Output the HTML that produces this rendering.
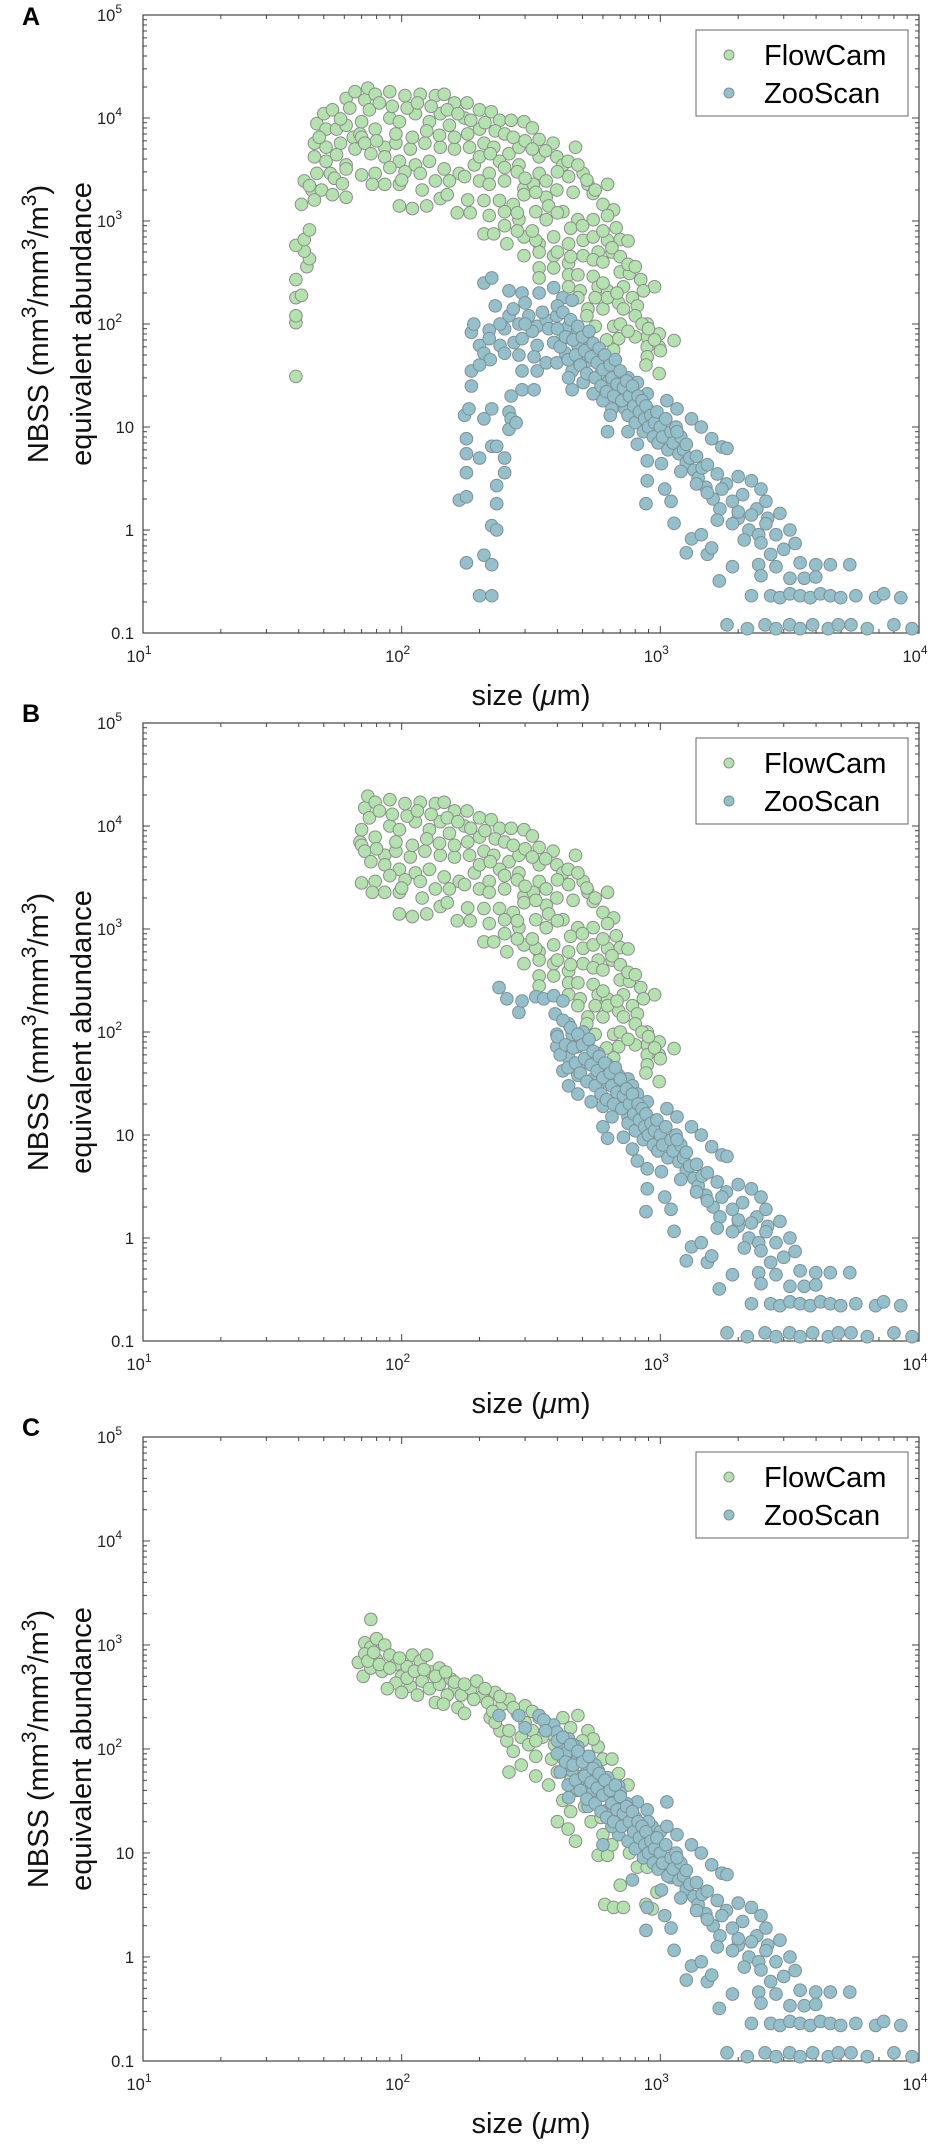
<!DOCTYPE html>
<html><head><meta charset="utf-8"><style>
html,body{margin:0;padding:0;background:#fff;}
svg{display:block;font-family:"Liberation Sans",Arial,sans-serif;}
</style></head><body>
<svg id="fig" width="945" height="2145" viewBox="0 0 945 2145" xmlns="http://www.w3.org/2000/svg"></svg>
<script>
// ---- data (size in µm, NBSS) ----
const flowLeftA = [[39,31],[39,103],[39,120],[39,180],[41,190],[39,270],[43,360],[44,430],[42,510],[39,580],[42,660],[44,820],[41,1450],[42,2450],[45,2000],[49,2000],[54,1800],[61,1700],[46,1600],[47,2900],[46,4200],[46,5700],[47,8800],[50,11000],[54,12000],[61,15500],[66,18000],[51,7800],[56,7800],[61,8500],[51,5200],[58,5700],[65,6500],[51,3800],[56,4400],[61,3500],[66,5000],[53,2900],[61,3200],[44,2200],[48,6500],[58,9800],[63,12500],[55,2600],[59,2300]];
const flowMain = [[69,7000],[72,15000],[74,19500],[79,17000],[90,18000],[103,16500],[118,17000],[135,16500],[146,17000],[160,14000],[179,14000],[200,12000],[222,11500],[239,9500],[265,9500],[297,9200],[320,8000],[340,6200],[385,5700],[470,5200],[70,9200],[70,6500],[79,7800],[90,10000],[98,9200],[113,11000],[128,9200],[141,11000],[153,8500],[175,10000],[200,7800],[72,5700],[86,5200],[95,5700],[108,5000],[123,5700],[141,5200],[160,5000],[183,5200],[208,5700],[227,5200],[260,4500],[284,5200],[76,4500],[86,4200],[98,3800],[113,3500],[128,3800],[146,3200],[167,2900],[191,3500],[218,2900],[239,3800],[284,3500],[340,4200],[398,4200],[420,3500],[70,2800],[79,2900],[90,3300],[103,3000],[118,2900],[135,2450],[153,2450],[175,2700],[200,2450],[218,2270],[250,2450],[297,2070],[340,2900],[362,2450],[442,2700],[503,2900],[525,2270],[625,2270],[77,2270],[86,2270],[98,2270],[98,1400],[110,1320],[125,1400],[141,1650],[164,1200],[184,1200],[208,1580],[239,1580],[270,1450],[297,1800],[323,2270],[362,1700],[398,2000],[460,1900],[550,1850],[600,1450],[660,1280],[675,860],[700,660],[750,640],[218,1130],[250,1230],[284,1030],[330,1230],[362,1030],[420,1230],[480,1030],[550,1030],[625,1130],[208,750],[227,750],[255,600],[297,700],[340,600],[387,700],[442,600],[503,650],[575,500],[625,650],[297,460],[340,500],[387,460],[442,390],[503,460],[550,420],[600,400],[650,500],[340,350],[387,350],[442,300],[480,300],[550,290],[340,280],[442,230],[490,210],[575,230],[625,210],[720,230],[700,320],[760,310],[840,270],[950,230],[860,210],[780,180],[815,150],[690,160],[600,140],[525,140],[625,180],[890,100],[890,75],[990,80],[800,75],[890,60],[990,60],[1130,69],[890,48],[660,95],[690,72],[660,56],[420,72],[990,33],[590,33]];
const flowExtra = [[75,12000],[82,14000],[92,13000],[105,12500],[115,14000],[130,13000],[150,12000],[165,11000],[185,9500],[210,9000],[230,7500],[250,7000],[270,6500],[300,6000],[320,5000],[360,4800],[400,3000],[440,3800],[480,3500],[520,2500],[560,2000],[80,6000],[95,7000],[110,6500],[125,7500],[140,6800],[160,6500],[180,7000],[200,4200],[220,4500],[250,3300],[280,3000],[300,2600],[330,1900],[370,1400],[400,1200],[450,850],[500,900],[550,700],[600,800],[650,550],[700,450],[750,380],[800,360],[600,250],[680,200],[720,140],[800,120],[850,100],[900,90],[950,70],[1000,55],[700,100],[750,85],[880,40],[560,180],[100,2500],[120,2000],[150,1800],[180,1600],[250,900],[280,800],[330,650],[400,500],[450,450],[480,180],[520,120],[560,95],[620,70],[280,1200],[320,800]];
const flowC = [[76,1760],[72,1050],[76,950],[80,1150],[86,1000],[68,680],[72,820],[71,500],[76,600],[80,720],[84,560],[90,800],[95,650],[100,500],[105,620],[110,800],[118,700],[125,800],[130,550],[140,600],[120,450],[108,400],[95,430],[88,380],[100,350],[115,330],[128,380],[140,420],[155,470],[160,380],[170,330],[150,330],[135,280],[145,270],[165,250],[175,220],[185,380],[195,450],[205,320],[215,280],[230,350],[245,270],[260,300],[280,220],[300,260],[320,230],[340,200],[360,180],[380,140],[220,200],[240,150],[255,120],[270,95],[290,130],[310,110],[330,85],[260,60],[290,70],[330,55],[370,45],[400,60],[430,70],[450,50],[480,40],[420,32],[450,25],[510,28],[540,20],[560,33],[590,22],[400,20],[440,17],[470,13],[575,9.5],[625,9.5],[700,4.9],[760,10],[815,7.3],[890,7.3],[990,7.5],[610,3.2],[660,3.0],[720,3.0],[880,3.2],[930,2.9],[970,4.2],[525,150],[575,105],[480,210],[600,80],[650,80],[550,125],[690,58],[750,45]];
const flowCExtra = [[74,700],[78,850],[82,650],[90,600],[98,750],[105,480],[112,560],[122,580],[135,500],[148,550],[160,440],[175,420],[190,300],[210,380],[225,230],[240,320],[270,250],[300,180],[320,150],[350,130],[390,110],[410,85],[440,95],[470,75],[500,55],[530,45],[560,60],[600,40],[650,28],[700,22],[420,200],[450,160],[500,120],[230,180],[260,150],[330,120],[380,80],[480,100],[600,15],[650,12]];
const zooEarlyA = [[167,1.95],[178,2.1],[178,3.6],[178,5.5],[178,7.7],[208,12],[175,13],[182,15],[186,25],[186,35],[200,5],[223,6.5],[233,6.5],[250,5],[250,3.6],[233,2.7],[233,1.8],[223,1.1],[233,1.0],[178,0.48],[208,0.57],[223,0.46],[200,0.23],[223,0.23],[223,15],[260,14],[265,12],[260,9.5],[277,11],[265,20],[292,23],[325,23],[292,35],[334,35],[362,42],[186,83],[200,62],[208,52],[218,87],[208,250],[223,280],[260,210],[292,200],[340,200],[387,225],[420,180],[456,170],[260,120],[284,100],[310,120],[334,95],[362,110],[398,120],[442,95],[480,87],[218,72],[240,62],[272,66],[292,72],[334,62],[387,66],[430,52],[480,62],[525,72],[575,52],[250,52],[284,50],[325,48],[398,42],[456,35],[503,27],[550,21],[600,18],[650,15],[625,27],[690,33],[750,30],[815,27],[890,21],[690,23],[730,15],[815,12],[890,15],[625,9],[750,9],[815,6.8],[890,4.7],[640,13],[456,23],[525,44],[442,30],[230,150],[250,90],[270,140],[300,160],[320,85],[350,130],[370,90],[400,150],[300,100],[240,100],[220,45],[200,40],[190,100]];
const zooEarlyB = [[238,270],[255,210],[284,155],[292,200],[330,220],[354,210],[387,225],[420,200],[392,150],[442,120],[398,95],[456,95],[503,100],[525,80],[480,72],[398,72],[442,56],[503,52],[575,62],[625,48],[420,42],[480,38],[550,35],[625,33],[690,38],[750,35],[442,30],[480,25],[540,21],[600,19],[690,27],[780,30],[815,25],[890,21],[650,15],[750,15],[815,13],[890,15],[600,12],[625,9.3],[720,9.5],[780,7.3],[815,5.6],[890,4.7],[970,7.3],[1010,8.8]];
const zooEarlyC = [[238,210],[284,210],[340,210],[387,170],[442,125],[420,100],[480,105],[525,80],[456,62],[503,53],[575,62],[625,53],[690,44],[442,34],[525,28],[625,26],[720,28],[815,31],[890,26],[1060,31],[600,12],[690,15],[780,18],[815,13],[930,18],[970,11],[1010,7.7],[780,5.5],[1100,5.8],[890,9.5],[354,190],[398,145],[480,80],[550,53],[650,18]];
const zooCExtra = [[300,160],[360,150],[400,120],[430,90],[460,110],[500,85],[520,60],[560,70],[600,50],[640,40],[700,38],[740,30],[800,22],[860,17],[900,20],[950,14],[1000,16],[450,70],[550,40],[650,30]];
const zooMid = [[400,90],[410,60],[420,130],[430,75],[440,45],[450,110],[460,70],[470,50],[480,95],[490,40],[500,75],[510,55],[520,33],[530,85],[540,48],[550,65],[560,30],[570,42],[580,58],[590,25],[600,36],[610,50],[620,22],[640,40],[650,30],[660,20],[670,45],[680,26],[700,35],[710,18],[720,24],[740,28],[750,13],[760,20],[780,25],[790,16],[800,11],[820,20],[830,14],[850,18],[860,9],[870,12],[880,16],[900,10],[920,13],[940,8],[950,11],[970,14],[980,7],[1000,10],[1020,8],[1050,12],[1070,6],[1100,9],[1120,7],[1150,10],[1180,5.5],[1200,8],[1230,6],[1260,4.5],[1300,5],[1350,3.8],[1400,3.2],[1450,4],[1500,2.6],[1600,2],[1700,1.6],[1800,2.8],[2000,1.3],[2200,1.0],[2400,0.9],[2600,1.3],[3000,0.65]];
const zooTail = [[1060,18],[1160,15],[1320,12],[1440,10],[1580,7.7],[1730,6.4],[1160,9],[1260,6.8],[1380,5.2],[1520,4.3],[1660,3.5],[1810,6.2],[2000,3.3],[2250,3.0],[2080,2.2],[2360,1.6],[2250,1.4],[2560,1.15],[2800,0.9],[3170,1.0],[3320,0.74],[2000,1.5],[1900,1.15],[2110,0.8],[2450,0.75],[2670,0.58],[2400,0.46],[2800,0.44],[3470,0.48],[3990,0.46],[4540,0.46],[5400,0.46],[3170,0.34],[3600,0.34],[3990,0.35],[2450,0.36],[1690,0.32],[1900,0.44],[1520,0.58],[1260,0.6],[1320,0.82],[1580,0.67],[1660,1.25],[1440,0.9],[1130,1.16],[880,1.8],[890,3],[1100,1.9],[1040,2.5],[1010,4.4],[1200,3.7],[1380,2.8],[1520,2.3],[2560,1.9],[2900,1.45],[2450,2.5],[1730,2.5],[1900,1.9],[2250,0.23],[2670,0.23],[2900,0.22],[3170,0.24],[3470,0.23],[3800,0.22],[4160,0.24],[4540,0.23],[4980,0.22],[5700,0.23],[6800,0.22],[7300,0.24],[8500,0.22],[1810,0.12],[2170,0.11],[2540,0.12],[2800,0.11],[3160,0.12],[3470,0.11],[3880,0.12],[4460,0.11],[4880,0.12],[5460,0.12],[6310,0.11],[8000,0.12],[9400,0.11]];
const xTickLabels = ["1","2","3","4"];
const yTickLabels = ["0.1","1","10","2","3","4","5"];

const NS = "http://www.w3.org/2000/svg";
const svg = document.getElementById('fig');
const L = 143, R = 919, XDEC = (R - L) / 3;
function mk(tag, attrs, parent) {
  const e = document.createElementNS(NS, tag);
  for (const k in attrs) e.setAttribute(k, attrs[k]);
  (parent || svg).appendChild(e);
  return e;
}
function panel(id, top, dec, flow, zoo, letter, letterY) {
  const g = mk('g', {});
  
  
  const bottom = top + dec * 6;
  const xs = s => L + (Math.log10(s) - 1) * XDEC;
  const ys = v => top + (5 - Math.log10(v)) * dec;
  const tk = mk('g', {stroke: '#444', 'stroke-width': 1}, g);
  
  
  for (let d = 1; d <= 4; d++) for (let m = 1; m <= 9; m++) {
    if (d === 4 && m > 1) break;
    const x = xs(m * Math.pow(10, d)); const len = m === 1 ? 7 : 4;
    mk('line', {x1: x, x2: x, y1: bottom, y2: bottom - len}, tk);
    mk('line', {x1: x, x2: x, y1: top, y2: top + len}, tk);
  }
  for (let d = -1; d <= 5; d++) for (let m = 1; m <= 9; m++) {
    if (d === 5 && m > 1) break;
    const y = ys(m * Math.pow(10, d)); const len = m === 1 ? 7 : 4;
    mk('line', {x1: L, x2: L + len, y1: y, y2: y}, tk);
    mk('line', {x1: R, x2: R - len, y1: y, y2: y}, tk);
  }
  const box = mk('rect', {x: L, y: top, width: R - L, height: bottom - top, fill: 'none', stroke: '#444', 'stroke-width': 1.2}, g);
  
  
  for (let i = 0; i < 4; i++) {
    const t = mk('text', {x: xs(Math.pow(10, i + 1)) - 4, y: bottom + 29, 'text-anchor': 'middle', 'font-size': 16.5, fill: '#222'}, g);
    
    
    t.appendChild(document.createTextNode('10'));
    const s = mk('tspan', {dy: -8, 'font-size': 12}, t); s.textContent = xTickLabels[i];
  }
  for (let i = 0; i < 7; i++) {
    const y = ys(Math.pow(10, i - 1));
    const t = mk('text', {x: L - 9, y: y + 6, 'text-anchor': 'end', 'font-size': 16.5, fill: '#222'}, g);
    
    
    if (i < 3) t.textContent = yTickLabels[i];
    else { t.setAttribute('x', L - 21); t.appendChild(document.createTextNode('10'));
      const s = mk('tspan', {dy: -8, 'font-size': 12}, t); s.textContent = yTickLabels[i]; }
  }
  const xt = mk('text', {x: (L + R) / 2, y: bottom + 72, 'text-anchor': 'middle', 'font-size': 29, fill: '#111'}, g);
  
  
  xt.innerHTML = 'size (<tspan font-style="italic">μ</tspan>m)';
  const cy = (top + bottom) / 2;
  const yt = mk('text', {transform: `translate(48,${cy}) rotate(-90)`, 'text-anchor': 'middle', 'font-size': 29, fill: '#111'}, g);
  
  
  yt.innerHTML = 'NBSS (mm<tspan dy="-12" font-size="21">3</tspan><tspan dy="12">/mm</tspan><tspan dy="-12" font-size="21">3</tspan><tspan dy="12">/m</tspan><tspan dy="-12" font-size="21">3</tspan><tspan dy="12">)</tspan>';
  const yt2 = mk('text', {transform: `translate(91,${cy}) rotate(-90)`, 'text-anchor': 'middle', 'font-size': 29, fill: '#111'}, g);
  
  
  yt2.textContent = 'equivalent abundance';
  const lt = mk('text', {x: 22, y: letterY, 'font-size': 25, 'font-weight': 'bold', fill: '#000'}, g);
  
  
  lt.textContent = letter;
  const gf = mk('g', {fill: '#b4e2ae', stroke: '#8c8c8c', 'stroke-width': 1}, g);
  
  
  flow.forEach(p => { const c = mk('circle', {cx: xs(p[0]), cy: ys(p[1]), r: 6.3}, gf);
    
     });
  const gz = mk('g', {fill: '#93c0cb', stroke: '#7f8f94', 'stroke-width': 1}, g);
  
  
  zoo.forEach(p => { const c = mk('circle', {cx: xs(p[0]), cy: ys(p[1]), r: 6.3}, gz);
    
     });
  const lg = mk('g', {}, g);
  
  
  mk('rect', {x: 696, y: top + 15, width: 212, height: 86, fill: '#fff', stroke: '#666', 'stroke-width': 1}, lg);
  [['FlowCam', '#b4e2ae', '#8c8c8c', 40], ['ZooScan', '#93c0cb', '#7f8f94', 78]].forEach(e => {
    const en = mk('g', {}, lg);
    
    
    mk('circle', {cx: 729, cy: top + e[3], r: 5, fill: e[1], stroke: e[2]}, en);
    const t = mk('text', {x: 764, y: top + e[3] + 10, 'font-size': 29, fill: '#000'}, en);
    t.textContent = e[0];
  });
}
panel('a', 15, 103, flowLeftA.concat(flowMain, flowExtra), zooEarlyA.concat(zooMid, zooTail), 'A', 25);
panel('b', 723, 103, flowMain.concat(flowExtra), zooEarlyB.concat(zooMid, zooTail), 'B', 722);
panel('c', 1437, 104, flowC.concat(flowCExtra), zooEarlyC.concat(zooCExtra, zooMid, zooTail), 'C', 1436);
</script>
</body></html>
